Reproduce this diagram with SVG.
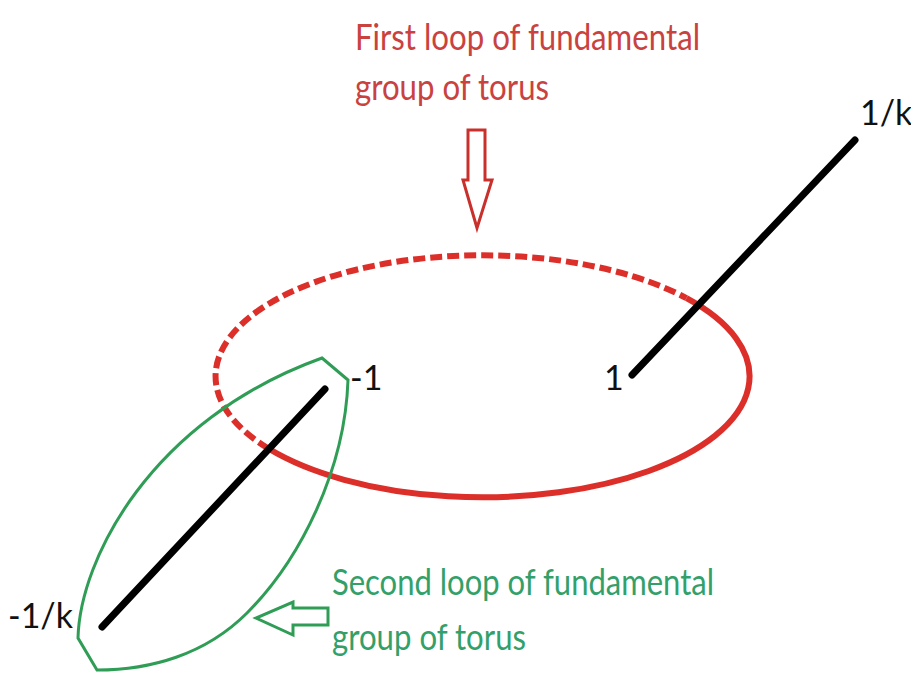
<svg xmlns="http://www.w3.org/2000/svg" width="911" height="673" viewBox="0 0 911 673">
<style>
.blk{stroke:#000;stroke-width:7;stroke-linecap:round;fill:none}
.red{stroke:#dc2f2a;stroke-width:6;fill:none}
.grn{stroke:#2f9d55;stroke-width:3;fill:none;stroke-linejoin:miter}
.lbl{font-family:Lato,"Open Sans",sans-serif;font-size:34px;fill:#111}
.rt{font-family:Lato,"Open Sans",sans-serif;font-size:36px;fill:#c9423f}
.gt{font-family:Lato,"Open Sans",sans-serif;font-size:36px;fill:#33a06a}
</style>
<rect width="911" height="673" fill="#fff"/>
<g id="loop1">
<path class="red" d="M686.5,298.2 A267,121 0 1 1 268.8,448.8"/>
<path class="red" d="M268.8,448.8 A267,121 0 0 1 686.5,298.2" stroke-dasharray="12,5"/>
</g>
<g id="loop2">
<path class="grn" d="M322,358 L348,380 C345,470 300,560 247,613 C205,655 150,670 97,670 L78,638 C80,560 150,420 322,358 Z"/>
</g>
<g id="segments">
<line class="blk" x1="632" y1="375" x2="855" y2="140"/>
<line class="blk" x1="102" y1="627" x2="325" y2="389"/>
</g>
<g id="labels">
<text class="lbl" x="860" y="125">1/k</text>
<text class="lbl" x="604" y="390">1</text>
<text class="lbl" x="350" y="390">-1</text>
<text class="lbl" x="8" y="628">-1/k</text>
</g>
<g id="label1">
<text class="rt" x="355" y="50" textLength="345" lengthAdjust="spacingAndGlyphs">First loop of fundamental</text>
<text class="rt" x="355" y="100" textLength="194" lengthAdjust="spacingAndGlyphs">group of torus</text>
<path d="M468,130 L485,130 L485,180 L492,180 L477,228 L463,180 L468,180 Z" fill="none" stroke="#c9302c" stroke-width="3"/>
</g>
<g id="label2">
<text class="gt" x="332" y="595" textLength="382" lengthAdjust="spacingAndGlyphs">Second loop of fundamental</text>
<text class="gt" x="332" y="650" textLength="194" lengthAdjust="spacingAndGlyphs">group of torus</text>
<path d="M328,608 L328,625 L293,625 L293,635 L256,618 L293,602 L293,608 Z" fill="none" stroke="#2f9d55" stroke-width="3"/>
</g>
</svg>
